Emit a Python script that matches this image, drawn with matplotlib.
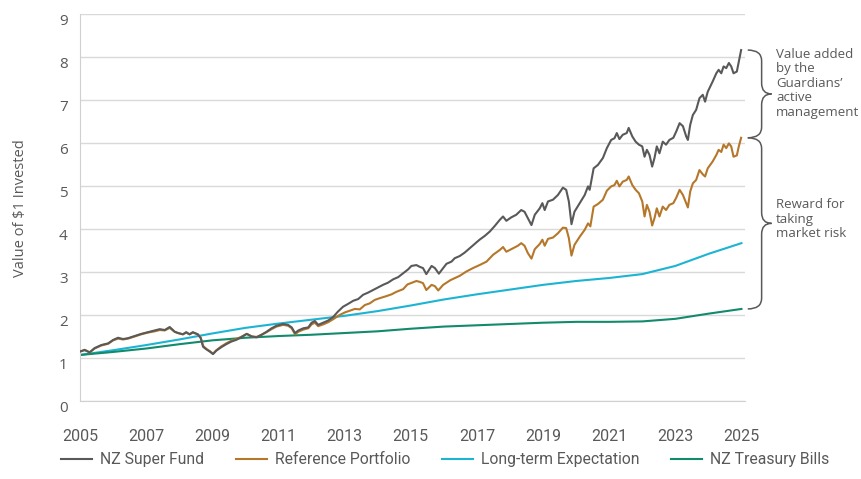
import matplotlib
matplotlib.use("Agg")
import matplotlib.pyplot as plt
from matplotlib.path import Path
from matplotlib.patches import PathPatch
import matplotlib.transforms as mtransforms

# ---- data ----
fund_years = [
    2005.00, 2005.14, 2005.29, 2005.44, 2005.64, 2005.85, 2006.00, 2006.15, 2006.30, 2006.45,
    2006.65, 2006.85, 2007.05, 2007.26, 2007.41, 2007.56, 2007.71, 2007.86, 2007.96, 2008.11,
    2008.21, 2008.31, 2008.41, 2008.56, 2008.65, 2008.72, 2008.82, 2008.92, 2009.02, 2009.12,
    2009.27, 2009.42, 2009.57, 2009.72, 2009.87, 2010.04, 2010.19, 2010.34, 2010.49, 2010.64,
    2010.79, 2010.94, 2011.14, 2011.29, 2011.40, 2011.50, 2011.60, 2011.75, 2011.90, 2012.00,
    2012.10, 2012.20, 2012.35, 2012.50, 2012.65, 2012.80, 2012.95, 2013.11, 2013.26, 2013.41,
    2013.56, 2013.71, 2013.86, 2014.01, 2014.16, 2014.31, 2014.47, 2014.62, 2014.77, 2014.92,
    2015.02, 2015.17, 2015.27, 2015.37, 2015.47, 2015.63, 2015.73, 2015.85, 2015.98, 2016.08,
    2016.23, 2016.33, 2016.48, 2016.63, 2016.78, 2016.93, 2017.08, 2017.24, 2017.39, 2017.54,
    2017.69, 2017.79, 2017.89, 2018.04, 2018.19, 2018.34, 2018.44, 2018.54, 2018.65, 2018.75,
    2018.90, 2018.98, 2019.05, 2019.15, 2019.30, 2019.45, 2019.60, 2019.70, 2019.78, 2019.86,
    2019.95, 2020.11, 2020.26, 2020.36, 2020.41, 2020.53, 2020.66, 2020.81, 2020.93, 2021.06,
    2021.16, 2021.23, 2021.31, 2021.41, 2021.53, 2021.59, 2021.70, 2021.80, 2021.90, 2022.00,
    2022.07, 2022.14, 2022.22, 2022.30, 2022.37, 2022.44, 2022.52, 2022.62, 2022.72, 2022.82,
    2022.94, 2023.03, 2023.13, 2023.23, 2023.33, 2023.38, 2023.45, 2023.53, 2023.63, 2023.73,
    2023.83, 2023.90, 2023.98, 2024.13, 2024.24, 2024.31, 2024.39, 2024.46, 2024.54, 2024.62,
    2024.69, 2024.76, 2024.86, 2024.92, 2024.99,
]
nz_super_fund = [
    1.16, 1.20, 1.14, 1.24, 1.31, 1.35, 1.43, 1.48, 1.45, 1.47,
    1.52, 1.57, 1.61, 1.65, 1.68, 1.66, 1.73, 1.62, 1.59, 1.56,
    1.61, 1.56, 1.61, 1.56, 1.47, 1.27, 1.21, 1.16, 1.10, 1.18,
    1.26, 1.33, 1.39, 1.43, 1.49, 1.57, 1.51, 1.49, 1.55, 1.62,
    1.70, 1.76, 1.80, 1.78, 1.72, 1.59, 1.65, 1.70, 1.72, 1.83,
    1.87, 1.78, 1.83, 1.88, 1.96, 2.09, 2.20, 2.27, 2.34, 2.38,
    2.48, 2.53, 2.59, 2.65, 2.71, 2.76, 2.84, 2.89, 2.98, 3.07,
    3.15, 3.17, 3.13, 3.10, 2.96, 3.15, 3.10, 2.97, 3.10, 3.20,
    3.25, 3.33, 3.38, 3.46, 3.56, 3.66, 3.76, 3.85, 3.95, 4.08,
    4.22, 4.30, 4.20, 4.28, 4.34, 4.45, 4.41, 4.26, 4.10, 4.34,
    4.49, 4.61, 4.45, 4.65, 4.69, 4.80, 4.97, 4.92, 4.65, 4.12,
    4.41, 4.61, 4.80, 5.00, 4.92, 5.42, 5.50, 5.66, 5.89, 6.08,
    6.12, 6.24, 6.10, 6.20, 6.24, 6.36, 6.16, 6.04, 5.97, 5.93,
    5.69, 5.85, 5.73, 5.46, 5.66, 5.93, 5.77, 6.04, 5.97, 6.08,
    6.13, 6.28, 6.47, 6.40, 6.16, 6.08, 6.43, 6.66, 6.78, 7.05,
    7.13, 6.97, 7.20, 7.44, 7.63, 7.71, 7.63, 7.79, 7.75, 7.87,
    7.79, 7.63, 7.67, 7.90, 8.17,
]

ref_years = [
    2005.00, 2005.14, 2005.29, 2005.44, 2005.64, 2005.85, 2006.00, 2006.15, 2006.30, 2006.45,
    2006.65, 2006.85, 2007.05, 2007.26, 2007.41, 2007.56, 2007.71, 2007.86, 2007.96, 2008.11,
    2008.21, 2008.31, 2008.41, 2008.56, 2008.65, 2008.72, 2008.82, 2008.92, 2009.02, 2009.12,
    2009.27, 2009.42, 2009.57, 2009.72, 2009.87, 2010.04, 2010.19, 2010.34, 2010.49, 2010.64,
    2010.79, 2010.94, 2011.14, 2011.29, 2011.40, 2011.50, 2011.60, 2011.75, 2011.90, 2012.00,
    2012.10, 2012.20, 2012.35, 2012.50, 2012.65, 2012.85, 2013.01, 2013.16, 2013.31, 2013.46,
    2013.61, 2013.76, 2013.91, 2014.06, 2014.27, 2014.42, 2014.57, 2014.77, 2014.90, 2015.17,
    2015.27, 2015.37, 2015.47, 2015.63, 2015.73, 2015.83, 2015.98, 2016.20, 2016.48, 2016.68,
    2016.88, 2017.08, 2017.29, 2017.49, 2017.69, 2017.79, 2017.89, 2018.09, 2018.24, 2018.34,
    2018.44, 2018.54, 2018.65, 2018.75, 2018.90, 2018.98, 2019.05, 2019.15, 2019.30, 2019.45,
    2019.60, 2019.70, 2019.78, 2019.86, 2019.95, 2020.11, 2020.26, 2020.36, 2020.43, 2020.53,
    2020.66, 2020.81, 2020.93, 2021.06, 2021.16, 2021.23, 2021.31, 2021.41, 2021.53, 2021.59,
    2021.70, 2021.80, 2021.90, 2022.00, 2022.07, 2022.14, 2022.22, 2022.30, 2022.37, 2022.44,
    2022.52, 2022.62, 2022.72, 2022.82, 2022.94, 2023.03, 2023.13, 2023.23, 2023.33, 2023.38,
    2023.45, 2023.53, 2023.63, 2023.73, 2023.83, 2023.90, 2023.98, 2024.13, 2024.24, 2024.31,
    2024.39, 2024.46, 2024.54, 2024.62, 2024.69, 2024.76, 2024.86, 2024.92, 2024.99,
]
reference_portfolio = [
    1.16, 1.19, 1.14, 1.23, 1.30, 1.34, 1.42, 1.46, 1.44, 1.46,
    1.51, 1.56, 1.60, 1.63, 1.66, 1.65, 1.71, 1.62, 1.59, 1.56,
    1.60, 1.56, 1.60, 1.56, 1.48, 1.29, 1.22, 1.17, 1.11, 1.19,
    1.28, 1.35, 1.41, 1.45, 1.50, 1.57, 1.51, 1.50, 1.55, 1.61,
    1.68, 1.74, 1.78, 1.76, 1.70, 1.56, 1.62, 1.67, 1.70, 1.79,
    1.83, 1.75, 1.79, 1.84, 1.91, 2.01, 2.07, 2.11, 2.15, 2.14,
    2.24, 2.28, 2.36, 2.40, 2.45, 2.49, 2.55, 2.61, 2.72, 2.80,
    2.78, 2.75, 2.59, 2.71, 2.68, 2.58, 2.71, 2.82, 2.92, 3.02,
    3.10, 3.17, 3.25, 3.41, 3.52, 3.59, 3.48, 3.56, 3.62, 3.68,
    3.62, 3.45, 3.32, 3.54, 3.66, 3.76, 3.62, 3.78, 3.81, 3.91,
    4.04, 4.03, 3.80, 3.39, 3.64, 3.83, 3.99, 4.14, 4.07, 4.53,
    4.59, 4.69, 4.90, 5.00, 5.03, 5.13, 5.00, 5.11, 5.15, 5.23,
    5.03, 4.92, 4.84, 4.65, 4.30, 4.57, 4.41, 4.09, 4.26, 4.49,
    4.30, 4.53, 4.45, 4.57, 4.61, 4.74, 4.92, 4.80, 4.61, 4.51,
    4.88, 5.07, 5.15, 5.38, 5.28, 5.23, 5.42, 5.58, 5.73, 5.85,
    5.80, 5.97, 5.89, 6.00, 5.93, 5.69, 5.72, 5.93, 6.13,
]

smooth_years = [2005, 2006, 2007, 2008, 2009, 2010, 2011, 2012, 2013, 2014, 2015,
                2016, 2017, 2018, 2019, 2020, 2021, 2022, 2023, 2024, 2025]
long_term_expectation = [1.08, 1.19, 1.31, 1.44, 1.58, 1.71, 1.81, 1.90, 1.99, 2.10, 2.23,
                         2.37, 2.49, 2.60, 2.71, 2.80, 2.87, 2.96, 3.15, 3.43, 3.68]
treasury_bills = [1.08, 1.15, 1.23, 1.33, 1.42, 1.48, 1.52, 1.55, 1.59, 1.63, 1.69,
                  1.74, 1.77, 1.80, 1.83, 1.85, 1.85, 1.86, 1.92, 2.04, 2.15]

x_ticks = list(range(2005, 2026, 2))
y_ticks = list(range(0, 10))
series_names = ["NZ Super Fund", "Reference Portfolio", "Long-term Expectation", "NZ Treasury Bills"]
colors = ["#595959", "#b5772a", "#1cb4d3", "#128a6c"]

plt.rcParams["font.family"] = ["Open Sans", "DejaVu Sans"]
narrow = "Roboto"
text_col = "#595959"

fig = plt.figure(figsize=(8.61, 4.79), dpi=100)
ax = fig.add_axes([0.093, 0.162, 0.772, 0.808])

ax.plot(fund_years, nz_super_fund, color=colors[0], lw=1.5, label=series_names[0], zorder=4)
ax.plot(ref_years, reference_portfolio, color=colors[1], lw=1.5, label=series_names[1], zorder=3)
ax.plot(smooth_years, long_term_expectation, color=colors[2], lw=1.5, label=series_names[2], zorder=2)
ax.plot(smooth_years, treasury_bills, color=colors[3], lw=1.5, label=series_names[3], zorder=2)

ax.set_xlim(2005, 2025.1)
ax.set_ylim(0, 9)
ax.set_xticks(x_ticks)
ax.set_yticks(y_ticks)
ax.grid(axis="y", color="#d9d9d9", lw=1)
ax.set_axisbelow(True)
for s in ["top", "right"]:
    ax.spines[s].set_visible(False)
ax.spines["left"].set_color("#d0d0d0")
ax.spines["bottom"].set_color("#d0d0d0")
ax.tick_params(axis="both", length=0, colors=text_col, labelsize=11)
ax.tick_params(axis="x", pad=20)
ax.tick_params(axis="y", pad=9)
for lab in ax.get_xticklabels():
    lab.set_family(narrow)
    lab.set_fontsize(11.5)
for lab in ax.get_yticklabels():
    lab.set_transform(lab.get_transform() + mtransforms.ScaledTranslation(0, -5 / 100, fig.dpi_scale_trans))

ax.set_ylabel("Value of $1 Invested", color=text_col, fontsize=10.5, labelpad=22)


def brace(ax, x0, y_top, y_bot, w=0.42, tip=0.3, r=0.25):
    ym = (y_top + y_bot) / 2
    xs = x0 + w
    verts = [(x0, y_top), (xs, y_top), (xs, y_top - r),
             (xs, ym + r),
             (xs, ym), (xs + tip, ym),
             (xs, ym), (xs, ym - r),
             (xs, y_bot + r),
             (xs, y_bot), (x0, y_bot)]
    codes = [Path.MOVETO, Path.CURVE3, Path.CURVE3,
             Path.LINETO,
             Path.CURVE3, Path.CURVE3,
             Path.CURVE3, Path.CURVE3,
             Path.LINETO,
             Path.CURVE3, Path.CURVE3]
    ax.add_patch(PathPatch(Path(verts, codes), fill=False, ec=text_col, lw=1.1, clip_on=False))


brace(ax, 2025.19, nz_super_fund[-1], reference_portfolio[-1])
brace(ax, 2025.19, reference_portfolio[-1], treasury_bills[-1])

ax.text(2026.05, 8.22, "Value added\nby the\nGuardians\u2019\nactive\nmanagement", color=text_col,
        fontsize=9.5, va="top", ha="left", linespacing=1.15, clip_on=False)
ax.text(2026.05, 4.72, "Reward for\ntaking\nmarket risk", color=text_col,
        fontsize=9.5, va="top", ha="left", linespacing=1.15, clip_on=False)

leg = fig.legend(loc="lower center", bbox_to_anchor=(0.517, -0.005), ncol=4, frameon=False,
                 handlelength=2.0, columnspacing=2.0, handletextpad=0.5,
                 prop={"family": narrow, "size": 11.3})
for t in leg.get_texts():
    t.set_color(text_col)

fig.savefig("out.png", dpi=100)
